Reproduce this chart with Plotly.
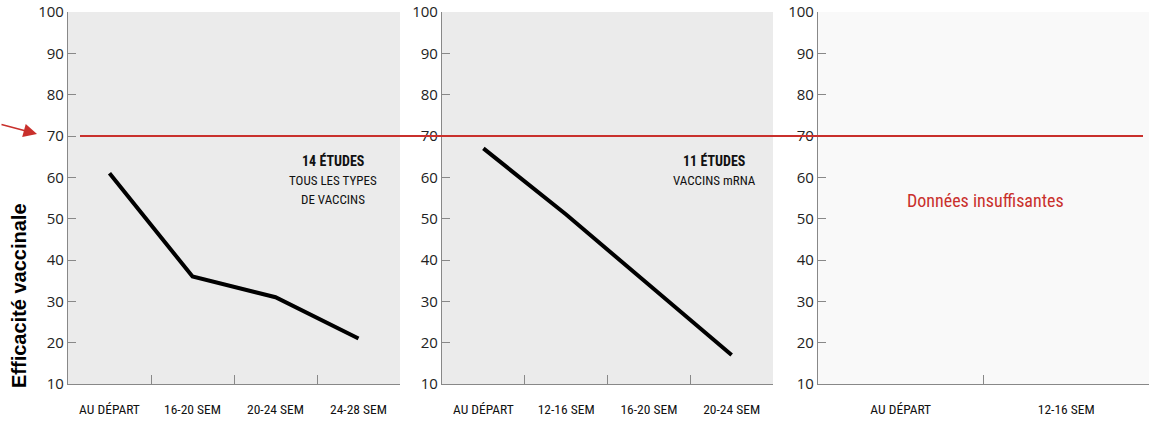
import plotly.graph_objects as go

# ---- data ----
cats1 = ["AU DÉPART", "16-20 SEM", "20-24 SEM", "24-28 SEM"]
vals1 = [61, 36, 31, 21]
cats2 = ["AU DÉPART", "12-16 SEM", "16-20 SEM", "20-24 SEM"]
vals2 = [67, 51, 34, 17]
cats3 = ["AU DÉPART", "12-16 SEM"]
threshold = 70
y_ticks = [10, 20, 30, 40, 50, 60, 70, 80, 90, 100]
y_title = "Efficacité vaccinale"
panel_notes = [("14 ÉTUDES", ["TOUS LES TYPES", "DE VACCINS"]),
               ("11 ÉTUDES", ["VACCINS mRNA"])]
no_data_text = "Données insuffisantes"

W, H = 1159, 424
RED = "#c9302c"
COND = "Liberation Sans Narrow, Roboto Condensed, Arial Narrow, Roboto, sans-serif"
NUMF = "Open Sans, Noto Sans, sans-serif"

def px(x):
    return x / W

def py(y):
    return 1 - y / H

fig = go.Figure()
fig.add_trace(go.Scatter(x=cats1, y=vals1, mode="lines", xaxis="x", yaxis="y",
                         line=dict(color="black", width=4), showlegend=False,
                         hoverinfo="skip"))
fig.add_trace(go.Scatter(x=cats2, y=vals2, mode="lines", xaxis="x2", yaxis="y2",
                         line=dict(color="black", width=4), showlegend=False,
                         hoverinfo="skip"))
# invisible trace to establish categories of panel 3
fig.add_trace(go.Scatter(x=cats3, y=[None] * len(cats3), mode="lines", xaxis="x3",
                         yaxis="y3", showlegend=False, hoverinfo="skip"))

domains = [(68, 400), (442, 773), (818, 1149)]
cat_lists = [cats1, cats2, cats3]
ydom = [py(384), py(12)]

layout = dict(
    width=W, height=H,
    margin=dict(l=0, r=0, t=0, b=0),
    paper_bgcolor="white",
    plot_bgcolor="rgba(0,0,0,0)",
    showlegend=False,
)

for i, ((a, b), cats) in enumerate(zip(domains, cat_lists)):
    sfx = "" if i == 0 else str(i + 1)
    layout["xaxis" + sfx] = dict(
        domain=[px(a), px(b)], anchor="y" + sfx,
        type="category", categoryorder="array", categoryarray=cats,
        range=[-0.5, len(cats) - 0.5],
        tickson="boundaries", ticks="inside", ticklen=9, tickwidth=1.2,
        tickcolor="#888", showline=True, linecolor="#888", linewidth=1.2,
        showgrid=False, zeroline=False, automargin=False,
        ticklabelstandoff=13,
        tickfont=dict(family=COND, size=13.5, color="#111"),
        fixedrange=True,
    )
    layout["yaxis" + sfx] = dict(
        domain=ydom, anchor="x" + sfx, range=[10, 100],
        tickvals=y_ticks, ticks="inside", ticklen=8, tickwidth=1.2,
        tickcolor="#888", showline=True, linecolor="#888", linewidth=1.2,
        showgrid=False, zeroline=False, automargin=False,
        tickfont=dict(family=NUMF, size=15, color="#222"),
        fixedrange=True,
    )

fig.update_layout(**layout)

# panel backgrounds
bgs = ["#ebebeb", "#ebebeb", "#f9f9f9"]
for i, col in enumerate(bgs):
    sfx = "" if i == 0 else str(i + 1)
    fig.add_shape(type="rect", xref=f"x{sfx} domain", yref=f"y{sfx} domain",
                  x0=0, x1=1, y0=0, y1=1, fillcolor=col, line_width=0,
                  layer="below")

# threshold line spanning all panels
fig.add_shape(type="line", xref="paper", yref="y", x0=px(80), x1=px(1143),
              y0=threshold, y1=threshold, line=dict(color=RED, width=2),
              layer="above")

# arrow pointing at 70
fig.add_annotation(xref="paper", yref="paper", x=px(37), y=py(134),
                   text="", showarrow=True, arrowhead=2, arrowsize=1.8,
                   arrowwidth=1.5, arrowcolor=RED, ax=-42, ay=-10,
                   xanchor="center", yanchor="middle")

# panel notes
note_x = [333, 714]
for (head, lines), x in zip(panel_notes, note_x):
    fig.add_annotation(xref="paper", yref="paper", x=px(x), y=py(160),
                       text=f"<b>{head}</b>", showarrow=False,
                       xanchor="center", yanchor="middle",
                       font=dict(family=COND, size=14, color="#111"))
    for j, ln in enumerate(lines):
        fig.add_annotation(xref="paper", yref="paper", x=px(x), y=py(180 + 19 * j),
                           text=ln, showarrow=False,
                           xanchor="center", yanchor="middle",
                           font=dict(family=COND, size=13, color="#111"))

fig.add_annotation(xref="paper", yref="paper", x=px(985), y=py(200),
                   text=no_data_text, showarrow=False,
                   xanchor="center", yanchor="middle",
                   font=dict(family=COND, size=18, color=RED))

# y-axis title
fig.add_annotation(xref="paper", yref="paper", x=px(19), y=py(296),
                   text=f"<b>{y_title}</b>", showarrow=False, textangle=-90,
                   xanchor="center", yanchor="middle",
                   font=dict(family="Liberation Sans, Arial, sans-serif", size=20,
                             color="black"))

fig.write_html("out.html", config={"displayModeBar": False},
               post_script="document.body.style.margin='0';document.body.style.padding='0';")
